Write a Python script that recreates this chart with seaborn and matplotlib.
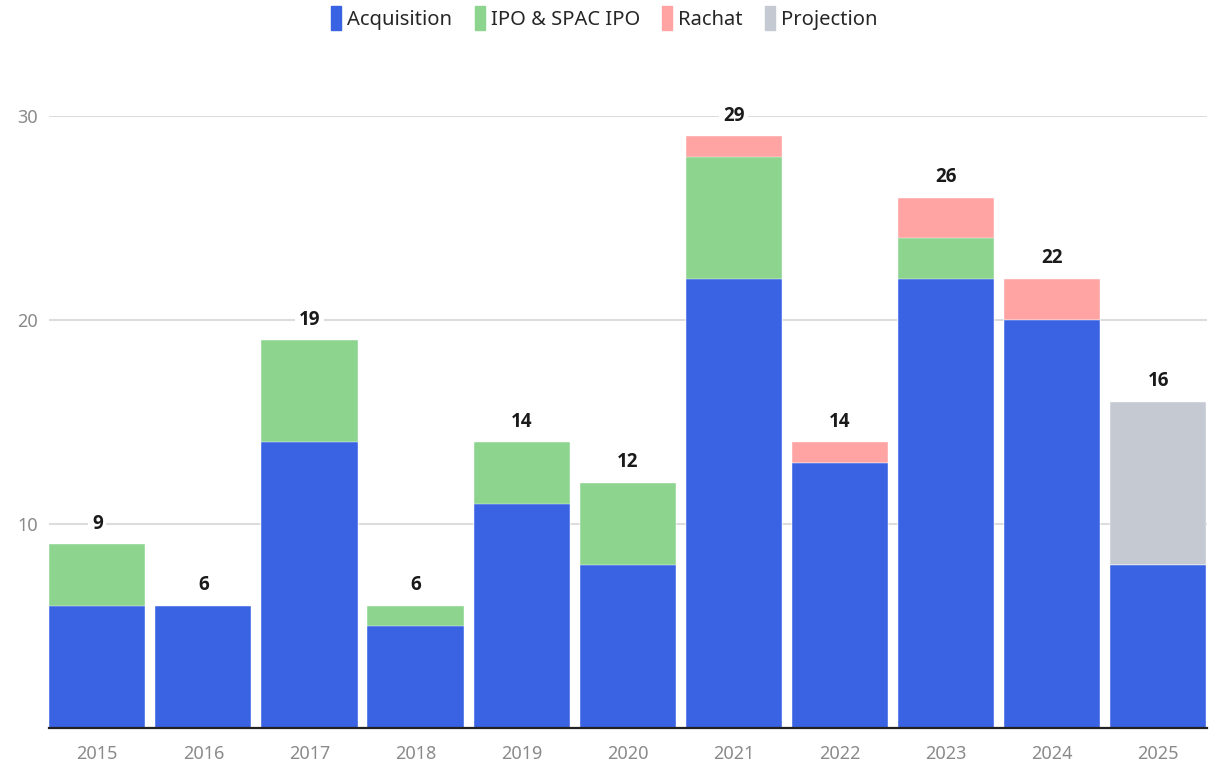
import pandas as pd
import numpy as np
import seaborn as sns
import matplotlib.pyplot as plt

# Data
years = ['2015', '2016', '2017', '2018', '2019', '2020', '2021', '2022', '2023', '2024', '2025']
acquisition = [6, 6, 14, 5, 11, 8, 22, 13, 22, 20, 8]
ipo_spac = [3, 0, 5, 1, 3, 4, 6, 0, 2, 0, 0]
rachat = [0, 0, 0, 0, 0, 0, 1, 1, 2, 2, 0]
projection = [0, 0, 0, 0, 0, 0, 0, 0, 0, 0, 8]

series = ['Acquisition', 'IPO & SPAC IPO', 'Rachat', 'Projection']
colors = ['#3a63e3', '#8dd48f', '#ffa3a3', '#c4c9d2']

df = pd.DataFrame({'Année': years, 'Acquisition': acquisition, 'IPO & SPAC IPO': ipo_spac,
                   'Rachat': rachat, 'Projection': projection})
cum = df[series].cumsum(axis=1)
df['Total'] = cum['Projection']

sns.set_theme(style='white')
plt.rcParams['font.family'] = ['Noto Sans', 'DejaVu Sans']

fig = plt.figure(figsize=(12.09, 7.64), dpi=100)
ax = fig.add_axes([49 / 1209, 1 - 728 / 764, 1158 / 1209, (728 - 116) / 764])

# Draw stacked bars from the top layer down
for name, color in reversed(list(zip(series, colors))):
    sns.barplot(x=df['Année'], y=cum[name], color=color, width=0.906, saturation=1,
                edgecolor='white', linewidth=0.3, ax=ax, zorder=2)

# Totals above bars
for i, tot in enumerate(df['Total']):
    ax.annotate(str(tot), (i, tot), xytext=(0, 15), textcoords='offset points',
                ha='center', va='center', fontsize=13.5, fontweight='bold', color='#1a1a1a',
                family=['Open Sans', 'DejaVu Sans'],
                bbox=dict(boxstyle='square,pad=0.2', fc='white', ec='none'), zorder=4,
                annotation_clip=False)

ax.set_xlim(-0.455, 10.46)
ax.set_ylim(0, 30)
ax.set_yticks([10, 20, 30])
ax.yaxis.grid(True, color='#dddddd', linewidth=1.5, zorder=0)
ax.set_axisbelow(True)
ax.set_xlabel('')
ax.set_ylabel('')
for s in ['top', 'right', 'left']:
    ax.spines[s].set_visible(False)
ax.spines['bottom'].set_color('#222222')
ax.spines['bottom'].set_linewidth(1.6)
ax.spines['bottom'].set_zorder(5)
ax.tick_params(axis='both', length=0, labelsize=13, labelcolor='#8a8a8a')
ax.tick_params(axis='x', pad=12)
ax.tick_params(axis='y', pad=8)

handles = [plt.Rectangle((0, 0), 1, 1, color=c) for c in colors]
fig.legend(handles, series, loc='center', bbox_to_anchor=(0.5, 1 - 18 / 764), ncol=4,
           frameon=False, fontsize=14.5, handlelength=0.5, handleheight=1.5,
           handletextpad=0.3, columnspacing=1.1)

fig.savefig('out.png', dpi=100)
